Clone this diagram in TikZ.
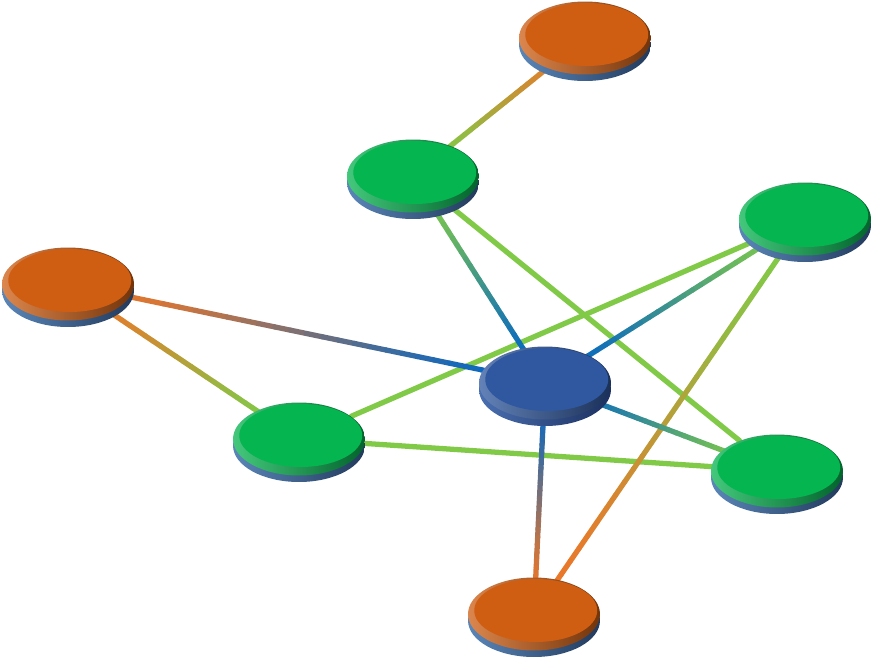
\documentclass[tikz,border=0pt]{standalone}
\usepackage{tikz}
\usetikzlibrary{shapes.geometric,shadows,backgrounds,calc}

\definecolor{discOrange}{HTML}{D05E12}
\definecolor{discGreen}{HTML}{05B550}
\definecolor{discBlue}{HTML}{2F58A0}
\definecolor{rimLight}{HTML}{5A86B8}
\definecolor{rimDark}{HTML}{223A5C}
\definecolor{hubLight}{HTML}{4A6FB0}
\definecolor{hubDark}{HTML}{1C3060}
\definecolor{lineGreen}{HTML}{80CA48}
\definecolor{lineOrange}{HTML}{EA772A}
\definecolor{lineBlue}{HTML}{0868C2}

% graded connector between two named nodes
\newcommand{\gradedge}[4]{%
  \foreach \k in {0,...,29}{%
    \pgfmathsetmacro\tt{\k/29}
    \pgfmathtruncatemacro\pc{100-100*(3*\tt*\tt-2*\tt*\tt*\tt)}
    \draw[edge, draw=#3!\pc!#4] ($(#1)!\k/30!(#2)$) -- ($(#1)!\k/30+1/30!(#2)$);
  }}

\begin{document}
\begin{tikzpicture}[x=0.02cm,y=-0.02cm]
		\tikzstyle{face}=[ellipse, minimum width=2.64cm, minimum height=1.46cm, inner sep=0pt,
			left color=#1!75!white, right color=#1!55!black,
			path picture={\fill[#1] ([xshift=1pt,yshift=2pt]path picture bounding box.center) ellipse (1.23cm and 0.63cm);}]
		\tikzstyle{disc}=[face=#1, general shadow={shadow yshift=-0.13cm, left color=rimLight, right color=rimDark}]
		\tikzstyle{hubdisc}=[face=#1, general shadow={shadow yshift=-0.13cm, left color=hubLight, right color=hubDark}]
		\tikzstyle{edge}=[line width=3pt, line cap=round]

		\useasboundingbox (0,0) rectangle (873,660);

		\node [disc=discOrange] (top) at (585,38) {};
		\node [disc=discGreen] (upper) at (413,176) {};
		\node [disc=discGreen] (right) at (805,219) {};
		\node [disc=discOrange] (left) at (68,284) {};
		\node [hubdisc=discBlue] (hub) at (545,383) {};
		\node [disc=discGreen] (lower) at (299,439) {};
		\node [disc=discGreen] (rlow) at (777,471) {};
		\node [disc=discOrange] (bottom) at (534,614) {};

		\begin{pgfonlayer}{background}
		\draw [edge, lineGreen] (upper) -- (rlow);
		\draw [edge, lineGreen] (right) -- (lower);
		\draw [edge, lineGreen] (lower) -- (rlow);
		\gradedge{top}{upper}{lineOrange}{lineGreen}
		\gradedge{upper}{hub}{lineGreen}{lineBlue}
		\gradedge{right}{hub}{lineGreen}{lineBlue}
		\gradedge{right}{bottom}{lineGreen}{lineOrange}
		\gradedge{left}{hub}{lineOrange}{lineBlue}
		\gradedge{left}{lower}{lineOrange}{lineGreen}
		\gradedge{hub}{rlow}{lineBlue}{lineGreen}
		\gradedge{hub}{bottom}{lineBlue}{lineOrange}
		\end{pgfonlayer}
	\end{tikzpicture}
\end{document}
